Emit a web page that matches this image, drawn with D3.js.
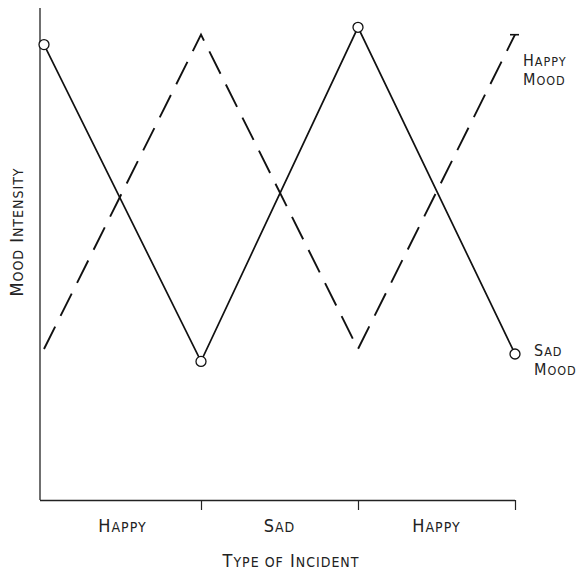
<!DOCTYPE html>
<html>
<head>
<meta charset="utf-8">
<script src="https://cdn.jsdelivr.net/npm/d3@7"></script>
<style>
  body { margin: 0; background: #fff; }
  text { font-family: "DejaVu Sans Condensed", "DejaVu Sans", sans-serif; fill: #222; letter-spacing: 1px; }
</style>
</head>
<body>
<div id="chart"></div>
<script>
// incidents in order, the mood lines are sampled at the boundaries
const incidents = ["Happy", "Sad", "Happy"];
const steps = [0, 1, 2, 3];
const sadMood = [92, 28, 95.5, 29.5];
const happyMood = [30.5, 94, 30.5, 94];

const width = 578, height = 573;

const svg = d3.select("#chart").append("svg")
    .attr("width", width)
    .attr("height", height);

const x = d3.scaleLinear().domain([0, 3]).range([44, 515]);
const y = d3.scaleLinear().domain([0, 100]).range([500, 5]);

/*
    Writes text in typewriter-style small caps: a capital letter is big,
    lowercase letters become smaller capitals
*/
function smallCaps(textSel, str, big, small) {
    str.split(" ").forEach((word, i) => {
        const sep = i > 0 ? " " : "";
        if (word[0] === word[0].toUpperCase()) {
            textSel.append("tspan").attr("font-size", big).text(sep + word[0]);
            textSel.append("tspan").attr("font-size", small).text(word.slice(1).toUpperCase());
        } else {
            textSel.append("tspan").attr("font-size", small).text(sep + word.toUpperCase());
        }
    });
    return textSel;
}

// axes
svg.append("line")
    .attr("x1", 40).attr("x2", 40)
    .attr("y1", 8).attr("y2", y(0))
    .attr("stroke", "#222").attr("stroke-width", 1.3);

const xAxis = svg.append("g")
    .attr("transform", `translate(0,${y(0)})`)
    .call(d3.axisBottom(x).tickValues([1, 2, 3]).tickSize(10).tickFormat(""));
xAxis.select(".domain")
    .attr("d", `M40,0.5H${x(3)}`)
    .attr("stroke", "#222").attr("stroke-width", 1.4);
xAxis.selectAll(".tick line").attr("stroke", "#222").attr("stroke-width", 1.2);

// category labels sit between ticks
svg.selectAll(".cat")
    .data(incidents)
    .enter().append("text")
    .attr("class", "cat")
    .attr("x", (d, i) => x(i + 0.5))
    .attr("y", 532)
    .attr("text-anchor", "middle")
    .each(function (d) { smallCaps(d3.select(this), d, 18, 14); });

smallCaps(svg.append("text")
    .attr("x", 291).attr("y", 567)
    .attr("text-anchor", "middle")
    .attr("letter-spacing", "3px"), "Type of Incident", 18, 14);

smallCaps(svg.append("text")
    .attr("transform", "translate(23,232) rotate(-90)")
    .attr("text-anchor", "middle")
    .attr("letter-spacing", "1.5px"), "Mood Intensity", 18, 14);

const line = d3.line()
    .x((d, i) => x(steps[i]))
    .y(d => y(d));

// sad mood: solid with open circles
svg.append("path")
    .datum(sadMood)
    .attr("d", line)
    .attr("fill", "none")
    .attr("stroke", "#111")
    .attr("stroke-width", 1.7);

svg.selectAll(".pt")
    .data(sadMood)
    .enter().append("circle")
    .attr("class", "pt")
    .attr("cx", (d, i) => x(steps[i]))
    .attr("cy", d => y(d))
    .attr("r", 5)
    .attr("fill", "#fff")
    .attr("stroke", "#111")
    .attr("stroke-width", 1.3);

// happy mood: dashed
svg.append("path")
    .datum(happyMood)
    .attr("d", line)
    .attr("fill", "none")
    .attr("stroke", "#111")
    .attr("stroke-width", 1.9)
    .attr("stroke-dasharray", "25,12");

// little cap at end of dashed line
const endX = x(steps[3]), endY = y(happyMood[3]);
svg.append("line")
    .attr("x1", endX - 5).attr("x2", endX + 4)
    .attr("y1", endY).attr("y2", endY)
    .attr("stroke", "#111").attr("stroke-width", 1.6);

// line labels, two lines in one text each
const labels = [
  { lines: ["Happy", "Mood"], x: 523, y: 66 },
  { lines: ["Sad", "Mood"], x: 534, y: 356 }
];
labels.forEach(l => {
  const t = svg.append("text")
      .attr("x", l.x).attr("y", l.y)
      .attr("letter-spacing", "0px");
  l.lines.forEach((s, i) => {
    const row = t.append("tspan").attr("x", l.x).attr("dy", i === 0 ? 0 : 19);
    smallCaps(row, s, 16, 12.5);
  });
});
</script>
</body>
</html>
